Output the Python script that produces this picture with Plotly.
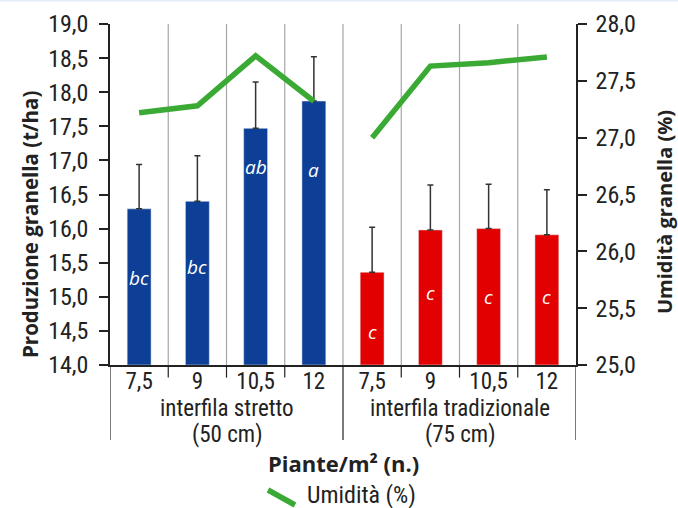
import plotly.graph_objects as go

categories = ["7,5", "9", "10,5", "12", "7,5", "9", "10,5", "12"]
group_line1 = ["interfila stretto", "interfila tradizionale"]
group_line2 = ["(50 cm)", "(75 cm)"]
produzione = [16.29, 16.40, 17.47, 17.87, 15.36, 15.98, 16.00, 15.91]
errore = [0.65, 0.67, 0.68, 0.65, 0.66, 0.66, 0.65, 0.66]
umidita = [27.22, 27.28, 27.72, 27.32, 27.00, 27.63, 27.66, 27.71]
lettere = ["bc", "bc", "ab", "a", "c", "c", "c", "c"]
lettere_y = [15.28, 15.44, 16.90, 16.86, 14.48, 15.05, 15.00, 15.00]

BLUE = "#0d3f96"
RED = "#e30000"
GREEN = "#3aaa35"
DARK = "#222222"
FONT = "Liberation Sans Narrow, Roboto Condensed, Arial Narrow, sans-serif"
BOLD = "Open Sans, Lato, sans-serif"

n = len(categories)
xs = list(range(n))
half = n // 2
colors = [BLUE] * half + [RED] * (n - half)

fig = go.Figure()
fig.add_trace(go.Bar(
    x=xs, y=[v - 14 for v in produzione], base=14, marker_color=colors, width=0.41,
    error_y=dict(type="data", symmetric=False, array=errore, arrayminus=[0] * n,
                 color="#333333", thickness=1.5, width=3),
    showlegend=False, hoverinfo="skip"))
for seg in (slice(0, half), slice(half, n)):
    fig.add_trace(go.Scatter(
        x=xs[seg], y=umidita[seg], yaxis="y2", mode="lines",
        line=dict(color=GREEN, width=5.5), name="Umidità (%)", showlegend=False))

for i, (t, yy) in enumerate(zip(lettere, lettere_y)):
    fig.add_annotation(x=i, y=yy, text="<i>%s</i>" % t, showarrow=False,
                       font=dict(color="white", size=19, family="Open Sans, sans-serif"))

shapes = []
for i in range(n - 1):
    shapes.append(dict(type="line", xref="x", yref="paper", x0=i + 0.5, x1=i + 0.5, y0=0, y1=1,
                       line=dict(color="#a6a6a6", width=1.2), layer="below"))
for i in range(n - 1):
    if i == half - 1:
        continue
    shapes.append(dict(type="line", xref="x", yref="paper", x0=i + 0.5, x1=i + 0.5, y0=0, y1=-0.037,
                       line=dict(color=DARK, width=1.2)))
for xv in [-0.5, half - 0.5, n - 0.5]:
    shapes.append(dict(type="line", xref="x", yref="paper", x0=xv, x1=xv, y0=0, y1=-0.22,
                       line=dict(color=DARK, width=1.2)))
shapes.append(dict(type="rect", xref="paper", yref="paper", x0=-0.3, x1=1.3, y0=1.065, y1=1.08,
                   line=dict(width=0), fillcolor="#e8eef8"))
shapes.append(dict(type="line", xref="paper", yref="paper",
                   x0=(268 - 110) / 466, x1=(295 - 110) / 466,
                   y0=(365 - 490) / 341, y1=(365 - 505) / 341,
                   line=dict(color=GREEN, width=5.5)))

centers = [(half - 1) / 2, half + (n - half - 1) / 2]
for l1, l2, xc in zip(group_line1, group_line2, centers):
    fig.add_annotation(x=xc, y=(365 - 409) / 341, xref="x", yref="paper", xanchor="center",
                       yanchor="middle", text=l1,
                       showarrow=False, font=dict(size=23, color=DARK, family=FONT))
    fig.add_annotation(x=xc, y=(365 - 434) / 341, xref="x", yref="paper", xanchor="center",
                       yanchor="middle", text=l2,
                       showarrow=False, font=dict(size=23, color=DARK, family=FONT))

fig.add_annotation(x=0.5, y=(365 - 463) / 341, xref="paper", yref="paper", xanchor="center",
                   yanchor="middle", text="<b>Piante/m² (n.)</b>", showarrow=False,
                   font=dict(size=22, color=DARK, family=BOLD))
fig.add_annotation(x=(305 - 110) / 466, y=(365 - 495) / 341, xref="paper", yref="paper",
                   xanchor="left", yanchor="middle", text="Umidità (%)", showarrow=False,
                   font=dict(size=24, color=DARK, family=FONT))
fig.add_annotation(x=(30 - 110) / 466, y=(365 - 225) / 341, xref="paper", yref="paper",
                   xanchor="center", yanchor="middle",
                   textangle=-90, text="<b>Produzione granella (t/ha)</b>", showarrow=False,
                   font=dict(size=20.5, color=DARK, family=BOLD))
fig.add_annotation(x=(665 - 110) / 466, y=(365 - 212) / 341, xref="paper", yref="paper",
                   xanchor="center", yanchor="middle",
                   textangle=-90, text="<b>Umidità granella (%)</b>", showarrow=False,
                   font=dict(size=20, color=DARK, family=BOLD))

fig.update_layout(
    width=678, height=508, margin=dict(l=110, r=102, t=24, b=143),
    paper_bgcolor="white", plot_bgcolor="white", separators=",.",
    shapes=shapes, showlegend=False,
    xaxis=dict(range=[-0.5, n - 0.5], tickvals=xs, ticktext=categories, showgrid=False,
               showline=True, linecolor=DARK, linewidth=1.5, ticks="", zeroline=False,
               automargin=False, ticklabelstandoff=-5,
               tickfont=dict(size=23, color=DARK, family=FONT)),
    yaxis=dict(range=[14, 19], dtick=0.5, tickformat=".1f", showgrid=False, zeroline=False,
               showline=True, linecolor=DARK, linewidth=1.5, ticks="outside", ticklen=9,
               tickcolor=DARK, tickwidth=1.5, automargin=False, ticklabelstandoff=6,
               tickfont=dict(size=24, color=DARK, family=FONT)),
    yaxis2=dict(range=[25, 28], dtick=0.5, tickformat=".1f", overlaying="y", side="right",
                showgrid=False, zeroline=False, showline=True, linecolor=DARK, linewidth=1.5,
                ticks="outside", ticklen=9, tickcolor=DARK, tickwidth=1.5, automargin=False,
                ticklabelstandoff=4,
                tickfont=dict(size=24, color=DARK, family=FONT)),
)

fig.write_html("out.html")
